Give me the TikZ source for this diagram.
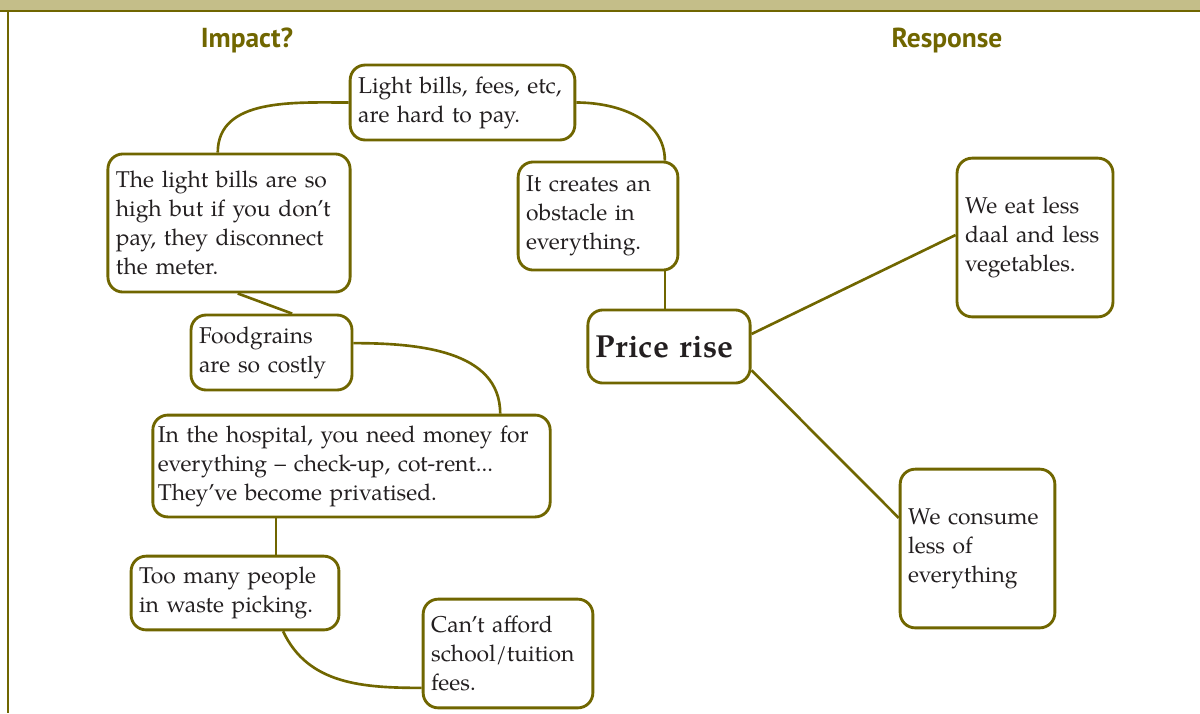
\documentclass[tikz,border=0pt]{standalone}
\usepackage{fontspec}
\setmainfont{TeX Gyre Pagella}
\newfontfamily\headfont{PT Sans}
\definecolor{olivebrd}{RGB}{112,102,0}
\definecolor{bandtan}{RGB}{196,190,137}
\definecolor{inkgray}{RGB}{35,31,32}
\begin{document}
\begin{tikzpicture}[x=0.016cm,y=-0.016cm,
	idea/.style={draw=olivebrd,line width=1.3pt,rounded corners=2.4mm,fill=white,align=left,inner xsep=0.128cm,text=inkgray,font=\fontsize{10.4}{13.2}\selectfont},
	link/.style={draw=olivebrd,line width=1.2pt},
	head/.style={text=olivebrd,font=\headfont\bfseries\fontsize{12.5}{15}\selectfont}]
		\useasboundingbox (0,0) rectangle (1200,713);
		\fill[bandtan] (0,0) rectangle (1200,11);
		\draw[olivebrd,line width=0.9pt] (0,11) -- (1200,11);
		\draw[olivebrd,line width=0.6pt] (8,11) -- (8,713);
		\node[head] (impact) at (247,40) {Impact?};
		\node[head] (resp) at (947,40) {Response};
		% impact side
		\node[idea,text width=3.34cm,minimum height=1.2cm] (light) at (462.5,102.5) {Light bills, fees, etc,\\are hard to pay.};
		\node[idea,text width=3.62cm,minimum height=2.21cm] (bills) at (229,223) {The light bills are so\\high but if you don't\\pay, they disconnect\\the meter.};
		\node[idea,text width=2.30cm,minimum height=1.73cm] (obst) at (598,216) {It creates an\\obstacle in\\everything.};
		\node[idea,text width=2.32cm,minimum height=1.2cm] (food) at (271.5,352.5) {Foodgrains\\are so costly};
		\node[idea,text width=6.2cm,inner xsep=0.08cm,minimum height=1.63cm] (hosp) at (351.5,466) {In the hospital, you need money for\\everything -- check-up, cot-rent...\\They've become privatised.};
		\node[idea,text width=3.07cm,minimum height=1.18cm] (waste) at (235,593) {Too many people\\in waste picking.};
		\node[idea,text width=2.46cm,minimum height=1.74cm] (school) at (508,653.5) {Can't afford\\school/tuition\\fees.};
		% centre
		\node[idea,text width=2.34cm,minimum height=1.17cm,font=\bfseries\fontsize{14.5}{17}\selectfont] (price) at (669,346.5) {Price rise};
		% response side
		\node[idea,text width=2.24cm,minimum height=2.54cm] (eat) at (1035,237.5) {We eat less\\daal and less\\vegetables.};
		\node[idea,text width=2.22cm,minimum height=2.54cm] (consume) at (977.5,548.5) {We consume\\less of\\everything};
		% links
		\draw[link] (light.west) to[out=180,in=90] ([xshift=-0.18cm]bills.north);
		\draw[link] (light.east) to[out=0,in=90] ([xshift=1.07cm]obst.north);
		\draw[link] ([xshift=1.07cm]obst.south) -- ([xshift=1.07cm]obst.south |- price.north);
		\draw[link] ([xshift=0.14cm]bills.south) -- ([xshift=0.33cm]food.north);
		\draw[link] ([yshift=0.15cm]food.east) to[out=0,in=90] ([xshift=2.38cm]hosp.north);
		\draw[link] ([xshift=-1.21cm]hosp.south) -- ([xshift=-1.21cm]hosp.south |- waste.north);
		\draw[link] ([xshift=0.77cm]waste.south) to[out=-65,in=180] ([yshift=-0.55cm]school.west);
		\draw[link] ([yshift=0.2cm]price.east) -- ([yshift=0.04cm]eat.west);
		\draw[link] ([yshift=-0.38cm]price.east) -- ([yshift=0.49cm]consume.west);
\end{tikzpicture}
\end{document}
